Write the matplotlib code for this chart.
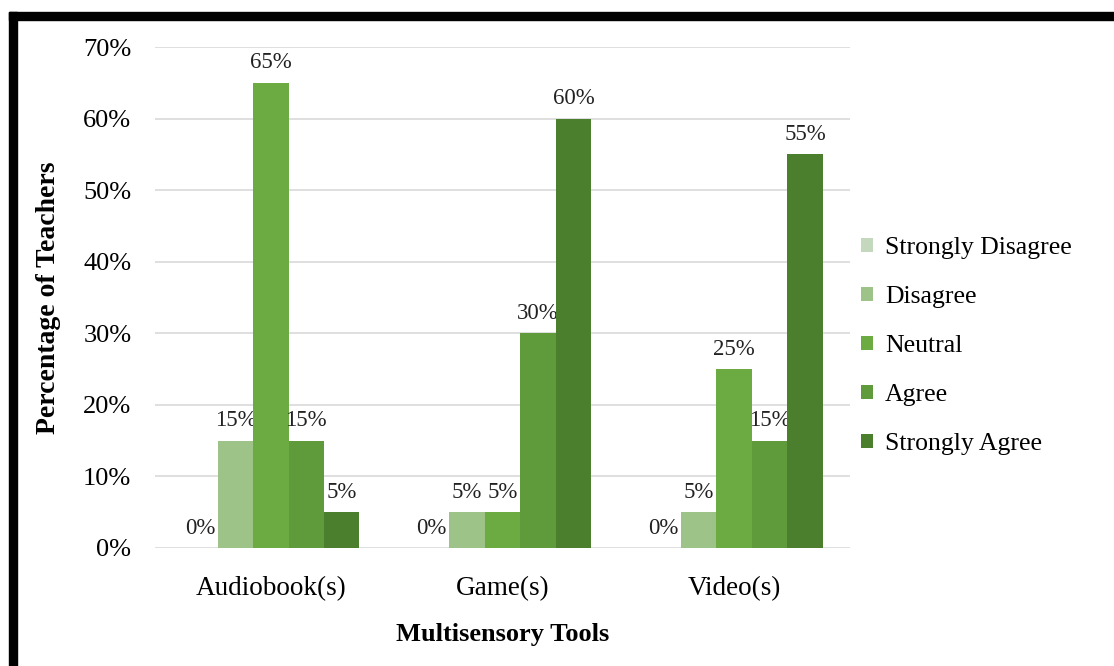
import numpy as np
import matplotlib.pyplot as plt
from matplotlib.patches import Rectangle

# Survey responses per tool (percent of teachers)
tools = ["Audiobook(s)", "Game(s)", "Video(s)"]
responses = ["Strongly Disagree", "Disagree", "Neutral", "Agree", "Strongly Agree"]
strongly_disagree = [0, 0, 0]
disagree = [15, 5, 5]
neutral = [65, 5, 25]
agree = [15, 30, 15]
strongly_agree = [5, 60, 55]
colors = ["#c4d8bd", "#9dc389", "#6cab41", "#5f9a3b", "#4b7f2d"]

plt.rcParams['font.family'] = ['Liberation Serif', 'DejaVu Serif']

fig = plt.figure(figsize=(11.14, 6.66), dpi=100)
ax = fig.add_axes([155 / 1114, 118 / 666, 695 / 1114, 501 / 666])

series = [strongly_disagree, disagree, neutral, agree, strongly_agree]
x = np.arange(len(tools))
width = 0.153
for i, (name, vals) in enumerate(zip(responses, series)):
    pos = x + (i - 2) * width
    bars = ax.bar(pos, vals, width, color=colors[i], label=name, zorder=3)
    for b, v in zip(bars, vals):
        ax.text(b.get_x() + b.get_width() / 2, v + 1.3, f"{v}%",
                ha="center", va="bottom", fontsize=16.5, color="#222222")

ax.set_xlim(-0.5, 2.5)
ax.set_ylim(0, 70)
ax.set_yticks(range(0, 71, 10))
ax.set_yticklabels([f"{t}%" for t in range(0, 71, 10)], fontsize=19)
ax.set_xticks(x)
ax.set_xticklabels(tools, fontsize=19.5)
ax.tick_params(length=0)
ax.tick_params(axis="x", pad=20)
ax.tick_params(axis="y", pad=17)
ax.grid(axis="y", color="#d9d9d9", linewidth=1.2, zorder=0)
for s in ax.spines.values():
    s.set_visible(False)

ax.set_xlabel("Multisensory Tools", fontsize=19, fontweight="bold", labelpad=16)
ax.set_ylabel("Percentage of Teachers", fontsize=20, fontweight="bold", labelpad=16)

ax.legend(loc="center left", bbox_to_anchor=(0.982, 0.403), frameon=False,
          fontsize=18.5, handlelength=0.5, handleheight=0.5, handletextpad=0.45,
          labelspacing=1.05)

# black frame along top and left edges
fig.patches.append(Rectangle((9 / 1114, 0), 8 / 1114, 654 / 666,
                             transform=fig.transFigure, color="black", zorder=10))
fig.patches.append(Rectangle((9 / 1114, 646 / 666), 1, 8 / 666,
                             transform=fig.transFigure, color="black", zorder=10))

fig.savefig("out.png", dpi=100)
